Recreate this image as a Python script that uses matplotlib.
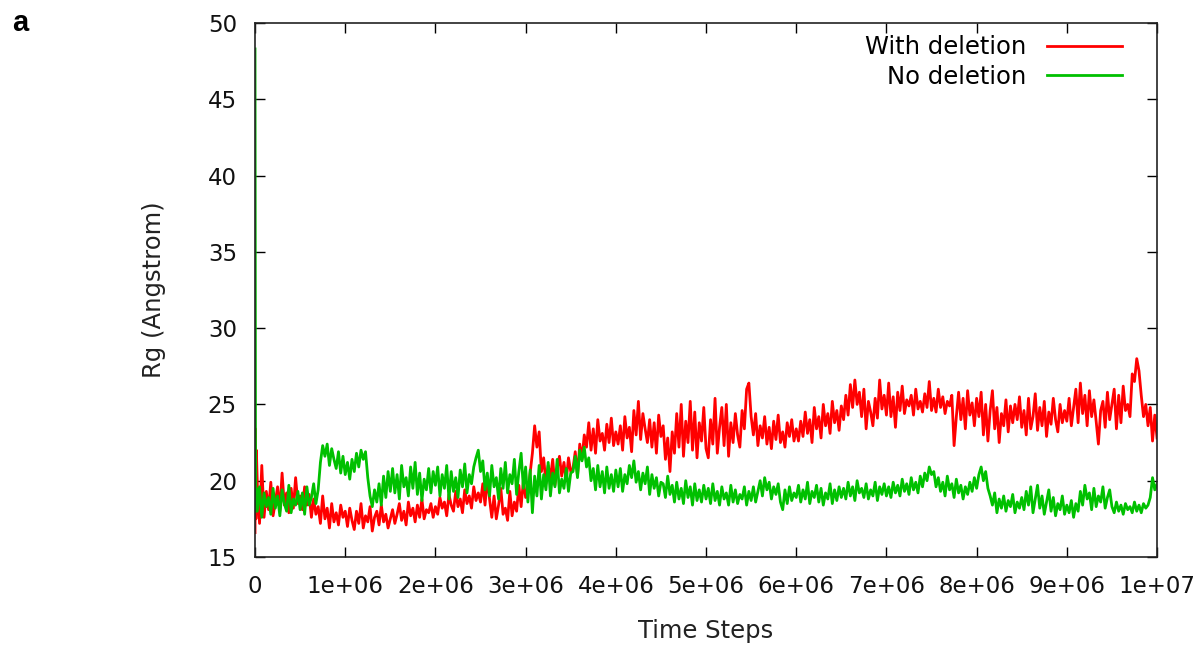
import numpy as np
import matplotlib
matplotlib.use("Agg")
import matplotlib.pyplot as plt

# time steps: a few early frames, then one sample every 2.5e4 steps
head_t = [0, 5e3, 1e4, 1.5e4]
step_t = np.arange(2.5e4, 1e7 + 1, 2.5e4)

with_head = [16.6, 23.4, 17.5, 22.0]
with_deletion = [
    19.8, 17.2, 21.0, 17.6, 19.3, 18.1, 19.9, 17.7, 18.6, 19.6, 18.0, 20.5, 18.4, 19.2, 17.9, 19.5, 18.2, 20.2, 18.5, 19.0,
    18.1, 19.6, 18.4, 19.1, 17.6, 18.8, 17.8, 18.3, 17.2, 19.0, 17.5, 18.2, 16.9, 18.5, 17.3, 17.9, 17.1, 18.4, 17.6, 18.0,
    17.0, 18.2, 17.4, 16.8, 18.0, 17.2, 18.5, 16.9, 17.7, 17.3, 18.3, 16.7, 17.6, 18.0, 17.1, 18.4, 17.3, 17.8, 16.9, 17.5,
    18.1, 17.2, 17.8, 18.5, 17.4, 18.0, 17.1, 18.6, 17.7, 18.2, 17.3, 18.4, 17.6, 18.8, 17.5, 18.1, 17.9, 18.5, 17.6, 18.3,
    17.8, 18.9, 18.2, 18.6, 17.7, 19.1, 18.4, 18.0, 19.3, 18.3, 18.8, 17.9, 19.4, 18.5, 19.0, 18.2, 19.6, 18.7, 19.2, 18.6,
    19.8, 18.4, 20.2, 18.8, 17.6, 19.0, 17.5, 18.4, 19.5, 17.8, 18.2, 17.4, 19.3, 17.7, 18.6, 18.0, 19.7, 18.3, 20.0, 18.9,
    19.2, 20.5, 21.8, 23.6, 22.2, 23.2, 20.6, 21.5, 19.8, 21.0, 20.2, 21.4, 19.7, 20.8, 21.6, 20.3, 21.2, 20.0, 21.5, 20.6,
    20.8, 21.9, 20.3, 22.4, 21.4, 23.0, 22.2, 23.8, 22.0, 23.4, 21.8, 24.0, 22.6, 23.1, 22.0, 23.7, 22.5, 24.1, 22.3, 23.2,
    22.4, 23.6, 22.0, 24.2, 22.8, 23.5, 21.9, 24.6, 23.0, 25.2, 22.7, 24.4, 23.4, 22.5, 24.0, 22.2, 23.8, 21.8, 24.3, 22.9,
    23.6, 21.4, 22.8, 20.6, 23.2, 21.8, 24.4, 22.2, 25.0, 21.6, 23.9, 22.5, 25.2, 22.0, 24.5, 21.5, 23.8, 22.6, 24.8, 22.1,
    21.5, 24.0, 22.4, 25.4, 21.8, 23.5, 24.8, 22.3, 25.0, 21.6, 23.8, 22.5, 24.4, 23.0, 22.2, 24.6, 23.4, 26.0, 26.4, 24.2,
    23.0, 24.4, 22.3, 23.6, 22.8, 24.2, 22.4, 23.5, 22.1, 23.9, 22.7, 24.3, 22.5, 23.2, 22.2, 23.8, 22.9, 24.0, 22.6, 23.4,
    22.6, 23.9, 22.9, 24.5, 23.1, 24.0, 22.5, 24.8, 23.4, 24.2, 22.8, 25.0, 23.6, 24.4, 23.1, 25.2, 23.8, 24.6, 23.3, 24.9,
    24.0, 25.6, 24.3, 26.3, 24.8, 26.6, 25.0, 25.8, 24.2, 26.0, 23.4, 25.2, 24.5, 23.6, 25.4, 24.1, 26.6, 24.7, 25.6, 24.3,
    26.4, 24.2, 25.5, 23.5, 25.8, 24.6, 26.2, 24.4, 25.3, 24.9, 25.6, 24.3, 26.0, 24.7, 25.2, 24.5, 25.7, 24.8, 26.5, 24.6,
    25.4, 24.5, 26.0, 24.8, 25.5, 24.4, 25.2, 24.9, 25.6, 22.3, 24.2, 25.8, 24.0, 25.4, 23.4, 25.9, 24.3, 25.1, 23.6, 25.4,
    24.2, 25.8, 23.0, 25.0, 22.6, 24.6, 25.9, 23.4, 24.8, 22.5, 24.4, 23.6, 25.3, 23.2, 24.9, 23.8, 25.0, 24.0, 25.5, 23.5,
    24.6, 23.0, 25.4, 23.4, 24.2, 25.7, 23.3, 24.8, 23.6, 25.2, 22.9, 24.5, 23.7, 25.4, 24.0, 23.2, 25.0, 23.8, 24.6, 23.9,
    25.4, 23.6, 24.8, 26.0, 23.8, 26.4, 24.4, 25.6, 23.6, 25.9, 24.2, 25.3, 23.9, 22.4, 24.6, 25.2, 23.5, 25.8, 24.0, 25.0,
    26.0, 23.4, 25.6, 23.8, 26.2, 24.6, 25.0, 24.2, 27.0, 26.5, 28.0, 27.2, 25.6, 24.2, 25.0, 23.6, 24.8, 22.6, 24.3, 22.8,
]

no_head = [48.3, 23.0, 18.0, 19.5]
no_deletion = [
    18.0, 19.6, 17.6, 19.2, 18.3, 18.9, 17.8, 19.5, 18.2, 19.0, 17.7, 19.4, 18.5, 18.0, 19.7, 17.9, 18.8, 18.4, 19.3, 18.1,
    19.2, 17.8, 19.6, 18.4, 18.9, 19.8, 18.5, 19.4, 21.2, 22.3, 21.6, 22.4, 21.0, 22.1, 21.4, 20.8, 21.9, 20.5, 21.6, 20.4,
    21.2, 20.1, 21.4, 20.6, 21.8, 20.9, 22.0, 21.4, 21.9, 20.2, 19.0, 18.3, 19.4, 18.6, 19.8, 18.4, 20.3, 18.9, 20.6, 19.3,
    20.8, 19.2, 20.4, 18.8, 21.0, 19.6, 20.2, 19.0, 20.9, 19.5, 21.2, 19.1, 20.5, 18.7, 20.1, 19.4, 20.8, 19.2, 20.6, 19.7,
    20.9, 19.0, 20.4, 19.5, 21.0, 18.8, 20.6, 19.3, 20.2, 18.9, 20.7, 19.6, 21.1, 19.2, 20.4, 19.8, 20.9, 21.5, 22.0, 20.6,
    21.3, 19.4, 20.5, 19.0, 21.0, 19.6, 20.2, 18.8, 20.8, 19.5, 21.2, 19.2, 20.4, 19.8, 21.4, 19.1, 20.6, 21.8, 19.5, 20.9,
    18.6, 20.7, 17.9, 20.3, 19.0, 21.0, 18.8, 20.4, 19.4, 21.2, 19.0, 20.5, 19.6, 21.4, 19.2, 20.1, 19.5, 20.8, 19.3, 20.5,
    20.6, 21.6, 20.2, 22.0, 21.3, 22.2, 20.9, 21.5, 20.0, 20.8, 19.4, 21.0, 19.6, 20.6, 19.2, 20.9, 19.5, 20.4, 19.3, 20.7,
    19.6, 20.8, 19.3, 20.4, 19.8, 21.0, 20.2, 21.3, 19.9, 20.6, 19.4, 20.5, 19.8, 20.9, 19.1, 20.4, 19.5, 20.2, 19.0, 19.9,
    19.8, 18.9, 20.3, 19.1, 19.7, 18.6, 19.9, 18.8, 19.5, 18.5, 20.0, 18.9, 19.6, 18.4, 19.8, 18.7, 19.4, 18.6, 19.7, 18.8,
    19.5, 18.5, 19.8, 18.7, 19.3, 18.4, 19.6, 18.8, 19.2, 18.4, 19.7, 18.6, 19.4, 18.5, 19.1, 18.8, 19.6, 18.4, 19.3, 18.7,
    19.6, 18.6, 19.3, 20.0, 19.0, 20.2, 19.4, 19.9, 18.8, 19.6, 19.1, 19.8, 18.6, 18.1, 19.4, 18.5, 19.6, 18.7, 19.2, 18.9,
    19.7, 18.6, 19.4, 18.8, 19.9, 18.5, 19.3, 18.9, 19.7, 18.6, 19.5, 18.4, 19.2, 18.8, 19.8, 18.5, 19.4, 18.7, 19.6, 18.9,
    19.5, 18.8, 19.9, 19.0, 19.6, 18.7, 20.0, 19.2, 19.5, 18.9, 19.8, 18.8, 19.4, 19.0, 19.9, 18.7, 19.6, 19.1, 19.8, 19.0,
    19.6, 18.9, 19.9, 19.2, 19.7, 19.0, 20.1, 19.3, 19.8, 19.1, 20.2, 19.4, 19.9, 19.2, 20.3, 19.6, 20.5, 20.0, 20.9, 20.4,
    20.6, 19.6, 20.2, 19.3, 19.9, 19.0, 20.3, 19.4, 19.8, 18.9, 20.1, 19.2, 19.7, 18.8, 19.6, 19.1, 19.9, 19.3, 20.2, 19.5,
    20.4, 20.9, 20.0, 20.6, 19.5, 19.0, 18.4, 19.2, 17.9, 18.8, 18.2, 19.0, 18.0, 18.7, 18.3, 19.1, 17.9, 18.6, 18.2, 18.9,
    18.1, 19.3, 18.4, 19.6, 17.9, 18.8, 19.7, 18.2, 19.0, 17.8, 18.6, 19.4, 18.0, 18.9, 17.7, 18.5, 18.1, 19.0, 17.8, 18.4,
    17.9, 18.7, 17.6, 18.5, 18.0, 19.3, 18.4, 19.7, 18.8, 19.2, 18.1, 19.5, 18.3, 19.0, 18.6, 19.6, 18.2, 18.9, 19.4, 18.3,
    17.9, 18.6, 18.0, 18.4, 17.8, 18.5, 18.1, 18.3, 17.9, 18.6, 18.0, 18.4, 17.9, 18.5, 18.2, 18.4, 18.9, 20.2, 19.4, 19.8,
]

x_ticks = np.arange(0, 1.01e7, 1e6)
x_labels = ["0", "1e+06", "2e+06", "3e+06", "4e+06", "5e+06",
            "6e+06", "7e+06", "8e+06", "9e+06", "1e+07"]
y_ticks = [15, 20, 25, 30, 35, 40, 45, 50]

t_all = np.concatenate([head_t, step_t])

plt.rcParams['font.family'] = ['DejaVu Sans']
fig = plt.figure(figsize=(11.99, 6.5), dpi=100)
ax = fig.add_axes([0.2127, 0.1431, 0.7523, 0.8215])

ax.plot(t_all, with_head + with_deletion, '-', color='#ff0000', lw=2.0,
        label='With deletion')
ax.plot(t_all, no_head + no_deletion, '-', color='#00c000', lw=2.0,
        label='No deletion')

ax.set_xlim(0, 1e7)
ax.set_ylim(15, 50)
ax.set_xticks(x_ticks)
ax.set_xticklabels(x_labels)
ax.set_yticks(y_ticks)
ax.tick_params(direction='in', length=7, width=1, top=True, right=True,
               labelsize=16.5, labelcolor='#111111')
ax.tick_params(axis='y', pad=13)
ax.tick_params(axis='x', pad=13)
for s in ax.spines.values():
    s.set_linewidth(1.2)
    s.set_color('#222222')

ax.set_xlabel('Time Steps', fontsize=17.5, color='#222222', labelpad=15)
ax.set_ylabel('Rg (Angstrom)', fontsize=17.5, color='#222222', labelpad=30)

ax.legend(loc='upper right', frameon=False, markerfirst=False,
          fontsize=17.5, handlelength=3.1, labelspacing=0.24,
          borderaxespad=0.1, handletextpad=0.85, bbox_to_anchor=(0.975, 1.0))

fig.text(0.01, 0.952, 'a', fontsize=21, fontweight='bold',
         family='Liberation Sans')

fig.savefig('out.png', dpi=100)
